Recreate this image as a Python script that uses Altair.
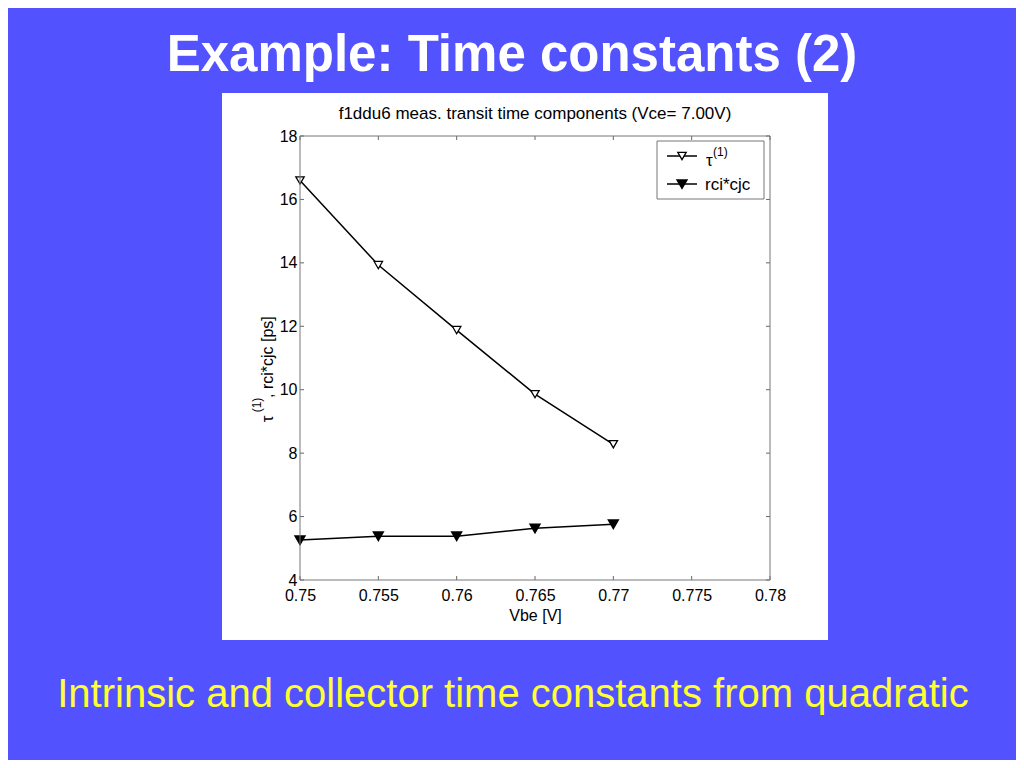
import altair as alt
import pandas as pd

vbe = [0.75, 0.755, 0.76, 0.765, 0.77]
tau1 = [16.6, 13.93, 11.88, 9.86, 8.28]
rcicjc = [5.26, 5.38, 5.38, 5.63, 5.76]
x_ticks = [0.75, 0.755, 0.76, 0.765, 0.77, 0.775, 0.78]
y_ticks = [4, 6, 8, 10, 12, 14, 16, 18]

FONT = "Liberation Sans"
BG = "#5252ff"

df = pd.DataFrame({"vbe": vbe * 2, "val": tau1 + rcicjc,
                   "series": ["tau"] * len(vbe) + ["rci*cjc"] * len(vbe)})
dft = df[df.series == "tau"]
dfr = df[df.series == "rci*cjc"]
xt = pd.DataFrame({"x": x_ticks})
yt = pd.DataFrame({"y": y_ticks})

xs = alt.Scale(domain=[0.75, 0.78], nice=False, zero=False)
ys = alt.Scale(domain=[4, 18], nice=False, zero=False)

xaxis = alt.Axis(values=x_ticks, format="~g", title="Vbe [V]", grid=False, domain=False,
                 ticks=False, labelPadding=7, labelFontSize=16, labelFont=FONT,
                 labelColor="black", titleFont=FONT, titleFontSize=16, titleFontWeight="normal",
                 titleColor="black", titlePadding=4, zindex=1, labelFlush=False)
yaxis = alt.Axis(values=y_ticks, title=None, grid=False, domain=False, ticks=False,
                 labelPadding=3, labelFontSize=16, labelFont=FONT, labelColor="black",
                 zindex=1, labelFlush=False)

panel = alt.Chart(pd.DataFrame({"a": [0]})).mark_rect(color="white").encode(
    x=alt.value(-78), x2=alt.value(528), y=alt.value(-43), y2=alt.value(504))

frame = alt.Chart(pd.DataFrame({"a": [0]})).mark_rect(fill=None, stroke="#777777", strokeWidth=1).encode(
    x=alt.value(0), x2=alt.value(470), y=alt.value(0), y2=alt.value(444))

axes_chart = alt.Chart(df).mark_point(opacity=0).encode(
    x=alt.X("vbe:Q", scale=xs, axis=xaxis),
    y=alt.Y("val:Q", scale=ys, axis=yaxis))

tick_col = "#666666"
xt_bot = alt.Chart(xt).mark_rule(color=tick_col).encode(
    x=alt.X("x:Q", scale=xs), y=alt.value(444), y2=alt.value(440))
xt_top = alt.Chart(xt).mark_rule(color=tick_col).encode(
    x=alt.X("x:Q", scale=xs), y=alt.value(0), y2=alt.value(4))
yt_left = alt.Chart(yt).mark_rule(color=tick_col).encode(
    y=alt.Y("y:Q", scale=ys), x=alt.value(0), x2=alt.value(4))
yt_right = alt.Chart(yt).mark_rule(color=tick_col).encode(
    y=alt.Y("y:Q", scale=ys), x=alt.value(466), x2=alt.value(470))

line_t = alt.Chart(dft).mark_line(color="black", strokeWidth=1.5).encode(
    x=alt.X("vbe:Q", scale=xs), y=alt.Y("val:Q", scale=ys))
pts_t = alt.Chart(dft).mark_point(shape="triangle-down", size=70, fill="white",
                                  stroke="black", strokeWidth=1.3, filled=False, opacity=1).encode(
    x=alt.X("vbe:Q", scale=xs), y=alt.Y("val:Q", scale=ys))
line_r = alt.Chart(dfr).mark_line(color="black", strokeWidth=1.5).encode(
    x=alt.X("vbe:Q", scale=xs), y=alt.Y("val:Q", scale=ys))
pts_r = alt.Chart(dfr).mark_point(shape="triangle-down", size=80, fill="black",
                                  stroke="black", filled=True, opacity=1).encode(
    x=alt.X("vbe:Q", scale=xs), y=alt.Y("val:Q", scale=ys))

one = pd.DataFrame({"a": [0]})

def txt(text, x, y, size, color="black", weight="normal", angle=0, align="center", baseline="middle"):
    return alt.Chart(one).mark_text(text=text, font=FONT, fontSize=size, color=color,
                                    fontWeight=weight, angle=angle, align=align,
                                    baseline=baseline).encode(x=alt.value(x), y=alt.value(y))

# legend
leg_box = alt.Chart(one).mark_rect(fill="white", stroke="#777777", strokeWidth=1).encode(
    x=alt.value(357), x2=alt.value(464), y=alt.value(5), y2=alt.value(63))
leg_l1 = alt.Chart(one).mark_rule(color="black", strokeWidth=1.5).encode(
    x=alt.value(367), x2=alt.value(397), y=alt.value(20))
leg_l2 = alt.Chart(one).mark_rule(color="black", strokeWidth=1.5).encode(
    x=alt.value(367), x2=alt.value(397), y=alt.value(48))
leg_p1 = alt.Chart(one).mark_point(shape="triangle-down", size=70, fill="white", stroke="black",
                                   strokeWidth=1.3, opacity=1).encode(x=alt.value(382), y=alt.value(20))
leg_p2 = alt.Chart(one).mark_point(shape="triangle-down", size=80, fill="black", stroke="black",
                                   filled=True, opacity=1).encode(x=alt.value(382), y=alt.value(48))

texts = [
    txt("Example: Time constants (2)", 212, -80, 51, color="white", weight="bold"),
    txt("Intrinsic and collector time constants from quadratic", 213, 559, 40, color="#ffff33"),
    txt("f1ddu6 meas. transit time components (Vce= 7.00V)", 235, -22, 17),
    txt("τ", 406, 25, 17, align="left"),
    txt("(1)", 413, 16, 12, align="left"),
    txt("rci*cjc", 405, 49, 17, align="left"),
    txt("τ", -32, 283, 17, angle=270),
    txt("(1)", -43, 269, 12, angle=270),
    txt(", rci*cjc [ps]", -32, 262, 16, angle=270, align="left"),
]

chart = alt.layer(
    panel, axes_chart, xt_bot, xt_top, yt_left, yt_right,
    line_t, line_r, pts_t, pts_r, frame,
    leg_box, leg_l1, leg_l2, leg_p1, leg_p2, *texts
).properties(
    width=470, height=444,
    padding={"left": 292, "top": 128, "right": 246, "bottom": 180},
    autosize=alt.AutoSizeParams(type="none"),
    background=BG,
).configure_view(stroke=None)

chart.save("out.html", embed_options={"renderer": "svg", "actions": False})
